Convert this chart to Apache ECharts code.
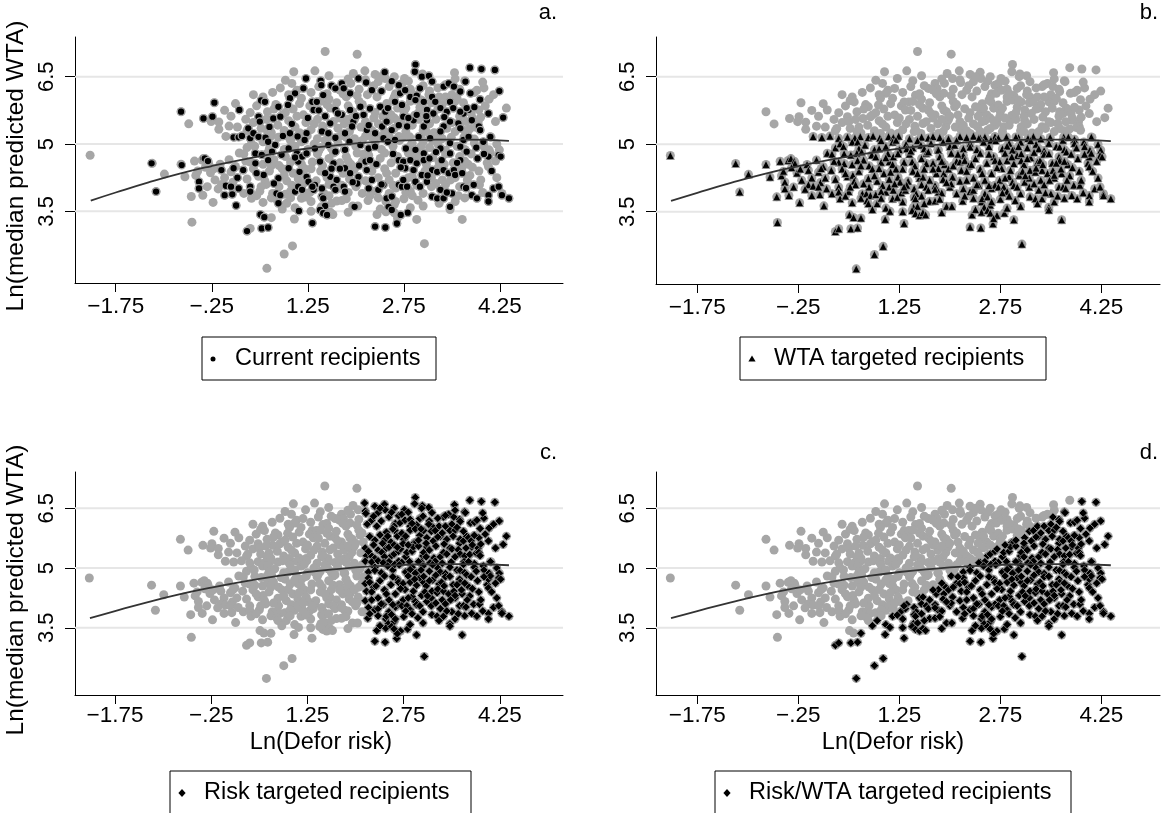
<!DOCTYPE html>
<html><head><meta charset="utf-8">
<script src="https://cdn.jsdelivr.net/npm/echarts@6/dist/echarts.min.js"></script>
<style>html,body{margin:0;padding:0;background:#fff}#c{width:1163px;height:813px}</style>
</head><body><div id="c"></div><script>
// ---------- DATA ----------
const xTicks = [-1.75, -0.25, 1.25, 2.75, 4.25];
const xTickLabels = ['\u22121.75', '\u2212.25', '1.25', '2.75', '4.25'];
const yTicks = [3.5, 5, 6.5];
const yTickLabels = ['3.5', '5', '6.5'];
const panelLetters = ['a.', 'b.', 'c.', 'd.'];
const legendLabels = ['Current recipients', 'WTA targeted recipients', 'Risk targeted recipients', 'Risk/WTA targeted recipients'];
const xTitle = 'Ln(Defor risk)';
const yTitle = 'Ln(median predicted WTA)';
const WTA_CUT = 5.2;      // panel b: ln WTA below this
const RISK_CUT = 2.12;    // panel c: ln risk above this
const RATIO_CUT = 2.8;    // panel d: ln WTA - ln risk below this

// all properties: [ln defor risk, ln median predicted WTA]
const upperPoints = [
[1.52,7.06],[2.02,7.0],[1.03,6.61],[1.36,6.63],[1.96,6.57],[2.14,6.63],[2.30,6.55],[2.45,6.60],[2.93,6.77],[2.92,6.61],[3.04,6.56],[3.14,6.52],[3.54,6.59],[3.78,6.70],[3.96,6.67],[4.17,6.65],[3.70,6.41],[1.22,6.46],[2.60,6.50],[2.76,6.46],[2.15,6.43],[2.35,6.39],[1.45,6.41],[3.37,6.28],[3.45,6.35],[3.19,6.39],[3.03,6.50],[2.46,6.46],[2.04,6.46],[1.78,6.35],[1.81,6.24],[1.68,6.24],
[0.55,6.05],[0.70,6.15],[0.82,6.25],[0.95,6.10],[1.08,6.20],[1.18,6.24],[1.30,6.15],[1.42,6.28],[1.49,6.09],[1.55,6.12],[1.62,6.30],[1.75,6.20],[1.85,6.05],[1.91,6.13],[1.92,6.35],[2.05,6.22],[2.16,6.37],[2.18,6.10],[2.25,6.20],[2.28,6.30],[2.40,6.18],[2.52,6.28],[2.56,6.40],[2.62,6.12],[2.67,6.31],[2.69,6.13],[2.72,6.35],[2.77,6.20],[2.85,6.22],[2.95,6.08],[3.00,6.24],[3.05,6.30],[3.15,6.18],[3.28,6.25],[3.40,6.32],[3.50,6.10],[3.53,6.28],[3.62,6.22],[3.63,6.17],[3.71,6.39],[3.79,6.13],[3.85,6.15],[3.89,6.20],[4.00,6.25],[4.08,6.0],[4.24,6.18],[3.30,6.05],[2.60,6.05],[1.00,6.35],[1.05,6.13],[0.97,6.02],[2.85,6.05],[3.19,6.05],[3.94,5.99],
[-0.21,5.92],[0.18,5.76],[0.35,5.70],[0.45,5.85],[0.52,5.97],[0.58,5.94],[0.62,5.72],[0.75,5.88],[0.79,5.83],[0.85,5.65],[0.94,5.87],[1.02,5.78],[1.12,5.90],[1.18,5.65],[1.28,5.85],[1.32,5.94],[1.39,5.94],[1.34,5.76],[1.45,5.95],[1.52,5.62],[1.60,5.80],[1.68,5.76],[1.70,5.92],[1.78,5.65],[1.88,5.85],[1.91,5.76],[1.95,5.72],[2.05,5.95],[2.07,5.83],[2.12,5.65],[2.22,5.79],[2.30,5.70],[2.38,5.83],[2.46,5.72],[2.48,5.90],[2.55,5.65],[2.61,5.94],[2.65,5.80],[2.72,5.87],[2.75,5.72],[2.85,5.95],[2.93,5.98],[2.92,5.64],[3.00,5.82],[3.06,5.94],[3.11,5.76],[3.18,5.92],[3.21,5.68],[3.24,5.94],[3.32,5.80],[3.35,5.88],[3.42,5.72],[3.47,5.94],[3.55,5.95],[3.62,5.62],[3.63,5.72],[3.68,5.68],[3.73,5.80],[3.76,5.76],[3.80,5.68],[3.92,5.76],[4.07,5.68],[4.35,5.80],[4.30,5.59],[-0.73,5.72],[-0.38,5.57],[-0.24,5.61],[0.05,5.62],[0.12,5.90],[0.48,5.61],[0.71,5.57],[0.82,5.61],
[-0.61,5.45],[-0.14,5.33],[-0.26,5.50],[-0.14,5.49],[0.02,5.40],[0.30,5.30],[0.32,5.35],[0.40,5.48],[0.50,5.50],[0.52,5.35],[0.60,5.55],[0.68,5.25],[0.78,5.42],[0.88,5.30],[0.95,5.52],[0.97,5.24],[1.05,5.38],[1.12,5.25],[1.22,5.48],[1.23,5.24],[1.30,5.32],[1.40,5.55],[1.47,5.28],[1.48,5.40],[1.57,5.24],[1.60,5.46],[1.65,5.50],[1.72,5.35],[1.82,5.45],[1.83,5.24],[1.90,5.28],[1.94,5.39],[1.96,5.50],[1.98,5.55],[2.08,5.38],[2.15,5.50],[2.17,5.31],[2.25,5.30],[2.30,5.24],[2.35,5.45],[2.41,5.39],[2.48,5.50],[2.52,5.52],[2.56,5.31],[2.60,5.35],[2.67,5.42],[2.70,5.48],[2.74,5.61],[2.78,5.28],[2.80,5.39],[2.88,5.42],[2.90,5.53],[2.95,5.65],[2.98,5.55],[3.05,5.30],[3.06,5.39],[3.11,5.53],[3.15,5.45],[3.22,5.25],[3.32,5.28],[3.37,5.39],[3.42,5.35],[3.47,5.50],[3.50,5.48],[3.60,5.46],[3.63,5.35],[3.70,5.30],[3.78,5.34],[3.81,5.53],[3.88,5.37],[3.91,5.50],[3.92,5.39],[3.94,5.31],[3.82,5.58],[1.75,5.58],[2.60,5.58],
[0.65,5.38],[0.72,5.78],[0.90,5.70],[1.00,5.45],[1.08,5.62],[1.15,6.02],[1.25,5.58],[1.35,5.45],[1.42,5.75],[1.55,5.88],[1.58,6.00],[1.72,5.68],[1.80,6.12],[1.88,5.55],[2.00,5.62],[2.02,6.08],[2.10,5.88],[2.20,5.42],[2.28,5.58],[2.33,6.05],[2.42,5.62],[2.50,5.80],[2.58,5.98],[2.65,5.52],[2.78,5.80],[2.82,5.58],[2.88,6.12],[2.98,5.70],[3.02,5.98],[3.10,5.62],[3.14,6.10],[3.25,5.55],[3.28,5.78],[3.38,5.60],[3.40,6.05],[3.52,5.80],[3.58,6.02],[3.68,5.92],[3.72,5.50],[3.85,5.82],[3.95,5.60],[4.02,5.85],[4.15,6.10],[4.18,5.50],[3.98,6.38],[3.55,6.45],[2.82,6.40],[2.38,6.50],[1.88,6.45],[1.58,6.52],[0.90,6.42],[0.40,6.10],[0.28,5.55],[0.15,5.38],[-0.05,5.75],[0.62,5.28],[1.50,5.30],[2.45,5.28],[3.55,5.28],[3.10,5.28]
];
const lowerPoints = [
[-0.03,5.17],[0.10,5.15],[0.22,5.18],[0.48,5.16],[0.59,5.14],[0.67,5.17],[0.79,5.15],[0.86,5.18],[0.96,5.14],[1.09,5.17],[1.16,5.15],[1.24,5.18],[1.58,5.16],[1.68,5.14],[1.75,5.17],[1.85,5.15],[2.15,5.17],[2.25,5.15],[2.35,5.18],[2.45,5.14],[2.52,5.16],[2.67,5.17],[2.72,5.14],[2.84,5.16],[3.02,5.15],[3.24,5.17],[3.49,5.15],[3.69,5.16],[4.11,5.15],[0.35,5.13],[1.40,5.12],[1.98,5.12],[3.35,5.12],[3.85,5.11],
[0.18,4.80],[0.30,4.92],[0.37,5.01],[0.42,4.95],[0.55,5.05],[0.63,5.05],[0.65,4.90],[0.74,4.98],[0.88,4.88],[0.95,4.90],[0.98,5.08],[1.05,4.95],[1.15,5.05],[1.20,5.09],[1.25,4.88],[1.35,5.00],[1.36,4.90],[1.45,4.92],[1.52,5.08],[1.57,4.98],[1.62,4.90],[1.72,5.02],[1.82,4.88],[1.90,5.05],[2.00,4.95],[2.07,4.98],[2.10,5.08],[2.20,4.90],[2.30,5.02],[2.30,4.94],[2.40,4.88],[2.43,5.13],[2.50,5.05],[2.58,4.95],[2.61,5.09],[2.68,5.08],[2.78,4.90],[2.88,5.02],[2.95,4.88],[2.98,5.16],[3.05,5.05],[3.15,4.92],[3.16,5.13],[3.28,5.00],[3.32,4.90],[3.40,4.86],[3.47,5.02],[3.58,4.95],[3.63,4.94],[3.68,5.09],[3.70,4.88],[3.76,5.16],[3.85,5.02],[3.99,5.05],[4.00,4.95],[4.10,5.16],[4.20,5.00],[4.24,4.87],[4.08,4.87],[3.20,5.08],[2.85,4.96],
[-1.18,4.57],[-0.73,4.55],[-0.52,4.62],[-0.40,4.64],[-0.36,4.68],[-0.31,4.62],[-0.30,4.57],[-0.12,4.55],[0.02,4.65],[0.12,4.50],[0.25,4.78],[0.35,4.60],[0.43,4.57],[0.43,4.79],[0.53,4.76],[0.55,4.55],[0.62,4.80],[0.63,4.64],[0.69,4.83],[0.72,4.65],[0.80,4.52],[0.84,4.76],[0.90,4.72],[0.98,4.60],[1.08,4.79],[1.10,4.61],[1.15,4.55],[1.16,4.72],[1.23,4.79],[1.32,4.60],[1.40,4.78],[1.44,4.61],[1.48,4.52],[1.58,4.68],[1.65,4.57],[1.65,4.80],[1.68,4.83],[1.75,4.58],[1.83,4.87],[1.85,4.72],[1.92,4.55],[2.02,4.80],[2.10,4.62],[2.15,4.61],[2.20,4.75],[2.22,4.64],[2.28,4.52],[2.38,4.68],[2.45,4.80],[2.55,4.58],[2.65,4.72],[2.67,4.64],[2.74,4.61],[2.82,4.80],[2.85,4.64],[2.93,4.87],[2.95,4.57],[3.00,4.75],[3.06,4.64],[3.06,4.79],[3.10,4.55],[3.20,4.70],[3.30,4.60],[3.34,4.64],[3.40,4.78],[3.47,4.79],[3.52,4.58],[3.62,4.72],[3.63,4.64],[3.73,4.83],[3.75,4.55],[3.80,4.78],[3.90,4.68],[4.05,4.58],[4.07,4.72],[4.10,4.80],[4.23,4.75],[4.26,4.72],
[-0.99,4.33],[-0.67,4.27],[-0.50,4.30],[-0.47,4.40],[-0.45,4.16],[-0.27,4.36],[-0.22,4.45],[-0.20,4.20],[-0.10,4.42],[-0.05,4.25],[0.05,4.38],[0.08,4.15],[0.09,4.46],[0.24,4.42],[0.30,4.22],[0.40,4.45],[0.48,4.28],[0.56,4.31],[0.58,4.18],[0.65,4.40],[0.79,4.24],[0.85,4.45],[0.92,4.18],[0.95,4.46],[1.02,4.35],[1.10,4.22],[1.20,4.45],[1.23,4.27],[1.26,4.16],[1.38,4.18],[1.45,4.40],[1.55,4.25],[1.60,4.27],[1.62,4.45],[1.70,4.20],[1.80,4.35],[1.83,4.46],[1.91,4.35],[1.90,4.22],[1.98,4.45],[2.04,4.27],[2.15,4.18],[2.17,4.42],[2.25,4.40],[2.35,4.25],[2.45,4.45],[2.52,4.20],[2.62,4.35],[2.74,4.20],[2.77,4.46],[2.88,4.28],[2.90,4.42],[2.93,4.16],[3.03,4.31],[3.08,4.40],[3.11,4.16],[3.18,4.25],[3.19,4.42],[3.27,4.38],[3.28,4.47],[3.35,4.20],[3.37,4.42],[3.45,4.35],[3.53,4.42],[3.55,4.25],[3.55,4.31],[3.66,4.35],[3.65,4.45],[3.78,4.30],[3.92,4.40],[4.07,4.50],[3.74,4.20],
[-1.12,3.94],[-0.45,4.01],[-0.39,3.86],[-0.32,4.05],[-0.10,4.10],[-0.05,3.86],[-0.03,4.07],[0.05,4.05],[0.07,3.88],[0.17,4.01],[0.25,3.90],[0.35,4.05],[0.35,3.94],[0.50,3.95],[0.60,4.10],[0.70,3.90],[0.76,3.90],[0.80,4.05],[0.82,3.86],[0.90,3.88],[1.00,4.08],[1.05,3.94],[1.10,4.05],[1.16,3.98],[1.18,4.12],[1.28,3.92],[1.34,3.98],[1.36,4.09],[1.47,4.01],[1.50,3.90],[1.58,4.10],[1.65,4.05],[1.68,3.98],[1.78,4.08],[1.83,3.94],[1.88,3.92],[2.00,4.05],[2.02,4.12],[2.10,3.90],[2.20,4.01],[2.30,3.95],[2.35,3.98],[2.43,4.09],[2.52,3.90],[2.62,4.02],[2.67,4.09],[2.72,4.05],[2.80,4.05],[2.85,3.95],[2.95,4.08],[3.05,3.90],[3.18,4.05],[3.32,3.98],[3.40,4.10],[3.50,3.90],[3.62,4.05],[3.68,4.05],[3.84,4.09],[3.93,4.09],[4.15,4.01],[4.23,4.05],[4.28,3.90],
[-0.57,3.83],[-0.23,3.70],[0.13,3.63],[0.37,3.79],[0.55,3.70],[0.68,3.80],[0.77,3.75],[0.79,3.68],[0.92,3.68],[1.05,3.58],[1.15,3.79],[1.30,3.72],[1.46,3.60],[1.47,3.83],[1.49,3.79],[1.52,3.62],[1.70,3.73],[1.78,3.74],[1.95,3.62],[2.03,3.62],[2.19,3.74],[2.35,3.80],[2.47,3.72],[2.48,3.79],[2.51,3.60],[2.56,3.83],[2.60,3.65],[2.75,3.78],[2.97,3.75],[3.05,3.62],[3.19,3.83],[3.27,3.79],[3.37,3.79],[3.47,3.60],[3.55,3.72],[3.70,3.80],[3.81,3.86],[3.89,3.79],[4.07,3.86],[4.07,3.72],[4.28,3.86],[4.39,3.79],
[-0.56,3.26],[0.30,3.06],[0.35,3.12],[0.53,3.12],[0.63,3.14],[0.51,3.43],[0.57,3.37],[0.68,3.36],[1.04,3.33],[1.11,3.51],[1.32,3.24],[1.44,3.53],[1.49,3.46],[1.55,3.42],[1.60,3.48],[1.64,3.43],[2.30,3.16],[2.46,3.14],[2.33,3.43],[2.47,3.49],[2.56,3.53],[2.60,3.47],[2.64,3.23],[2.70,3.42],[2.81,3.47],[2.65,3.35],[2.95,3.32],[3.47,3.54],[3.66,3.32],[0.61,2.23],[0.88,2.55],[1.01,2.73],[3.07,2.78],
[-2.15,4.75],
[0.45,4.35],[0.52,4.05],[0.68,4.52],[0.72,4.12],[0.88,4.30],[0.98,3.95],[1.05,4.70],[1.12,4.38],[1.30,4.45],[1.32,4.05],[1.42,4.85],[1.52,4.35],[1.58,3.85],[1.75,4.45],[1.78,4.00],[1.88,4.62],[1.95,4.15],[2.05,4.52],[2.12,4.78],[2.25,4.20],[2.32,4.55],[2.40,4.10],[2.48,4.35],[2.58,4.78],[2.58,4.08],[2.70,4.48],[2.78,3.92],[2.82,4.25],[2.92,4.72],[3.00,4.05],[3.02,4.95],[3.12,4.30],[3.15,4.68],[3.25,4.12],[3.25,4.82],[3.38,4.55],[3.42,3.92],[3.48,4.20],[3.58,4.58],[3.60,3.85],[3.70,4.62],[3.72,4.02],[3.82,4.48],[3.88,4.92],[3.95,4.20],[4.00,4.78],[4.12,4.40],[4.18,4.62],[4.20,4.25],[3.98,3.92],[2.88,3.85],[2.62,3.72],[2.22,3.85],[1.85,3.78],[1.62,3.68],[1.22,3.82],[0.98,3.80],[0.45,3.85],[0.28,4.62],[0.15,4.25],[-0.15,4.00],[-0.35,4.48],[3.30,3.68],[2.85,3.58],[2.38,3.55],[1.88,3.48],[1.30,3.50],[0.85,3.55]
];
// black dots of panel a (current recipients)
const currentRecipients = [
[-0.73,5.72],[-0.21,5.92],[-0.38,5.57],[-0.24,5.61],[0.18,5.76],[0.09,5.15],[0.17,5.15],[-0.38,4.68],
[-1.19,4.57],[-0.72,4.53],[-1.12,3.94],[-0.36,4.68],[-0.31,4.62],[-0.10,4.42],[0.09,4.46],[-0.45,4.16],[-0.45,4.01],[-0.03,4.07],[0.05,4.05],[-0.05,3.86],[0.07,3.88],[0.13,3.63],[0.17,4.01],
[0.24,4.42],[0.35,4.05],[0.35,3.94],[0.79,4.24],[0.76,3.90],[0.82,3.86],[0.79,3.68],[1.05,3.94],[1.10,4.05],[1.16,3.98],[1.23,4.27],[1.26,4.16],[1.36,4.09],[1.34,3.98],[1.44,4.61],[1.47,4.01],[1.47,3.83],[1.49,3.79],[1.52,3.62],[1.44,3.53],[1.49,3.46],[1.55,3.42],[1.32,3.24],[1.11,3.51],[0.51,3.43],[0.57,3.37],[0.30,3.06],[0.53,3.12],[0.63,3.14],[1.65,4.57],[1.62,4.45],[1.60,4.27],[1.70,4.20],[1.65,4.05],[1.68,3.98],[1.83,4.46],[1.91,4.35],[1.81,4.05],[1.83,3.94],[1.98,3.60],[2.04,4.27],[2.02,4.12],[2.15,4.61],[2.22,4.64],[2.17,4.42],[2.20,4.01],[2.35,3.98],[2.43,4.09],[2.48,3.79],[2.56,3.83],[2.51,3.60],[2.56,3.53],[2.30,3.16],[2.46,3.14],[2.64,3.23],[2.67,4.09],[2.72,4.05],[2.67,4.64],[0.95,4.46],[1.10,4.61],[0.56,4.31],[0.63,4.64],[0.43,4.57],
[1.22,6.46],[1.45,6.41],[1.46,6.31],[1.32,5.94],[1.39,5.94],[1.18,6.24],[1.05,6.13],[0.97,6.02],[0.94,5.87],[0.52,5.97],[0.58,5.94],[0.79,5.83],[0.71,5.57],[0.82,5.61],[0.48,5.61],[0.50,5.50],[0.32,5.35],[0.22,5.18],[0.35,5.13],[0.40,5.24],[0.48,5.16],[0.59,5.14],[0.63,5.05],[0.74,4.98],[0.86,5.18],[0.97,5.24],[1.09,5.17],[1.23,5.24],[1.20,5.09],[1.34,5.76],[1.52,5.62],[1.60,5.46],[1.49,6.09],[1.62,6.30],[1.68,6.24],[1.78,6.35],[1.81,6.24],[1.91,6.13],[2.04,6.46],[2.16,6.37],[2.25,6.20],[2.40,6.18],[2.45,6.60],[2.56,6.40],[2.67,6.31],[2.69,6.13],[2.61,5.94],[2.72,5.87],[1.68,5.76],[1.78,5.65],[1.91,5.76],[2.07,5.83],[2.12,5.65],[2.22,5.79],[2.38,5.83],[2.46,5.72],[1.96,5.50],[1.94,5.39],[2.17,5.31],[2.30,5.24],[2.41,5.39],[2.48,5.50],[2.56,5.31],[2.67,5.42],[1.47,5.28],[1.57,5.24],[1.68,5.14],[1.83,5.24],[1.90,5.05],[2.07,4.98],[1.57,4.98],[1.36,4.90],[1.68,4.83],[1.83,4.87],[2.20,4.90],[2.30,4.94],[2.43,5.13],[2.50,5.05],[2.61,5.09],[2.78,4.90],[0.43,4.79],[0.53,4.76],[0.69,4.83],[0.84,4.76],[0.95,4.90],[1.08,4.79],[1.16,4.72],[1.23,4.79],
[2.93,6.77],[2.92,6.61],[3.03,6.50],[3.14,6.52],[3.19,6.39],[3.37,6.28],[3.45,6.35],[3.53,6.28],[3.63,6.17],[3.71,6.39],[3.78,6.70],[3.96,6.67],[4.17,6.65],[4.24,6.18],[3.79,6.13],[3.94,5.99],[3.76,5.76],[3.68,5.68],[4.07,5.68],[4.30,5.59],[4.10,5.16],[3.99,5.05],[2.77,6.20],[2.85,6.05],[2.95,6.08],[3.00,6.24],[2.93,5.98],[3.06,5.94],[3.19,6.05],[3.24,5.94],[3.11,5.76],[3.21,5.68],[3.32,5.80],[3.42,5.72],[3.47,5.94],[3.63,5.72],[3.73,5.80],[3.81,5.53],[3.92,5.39],[3.94,5.31],[3.60,5.46],[3.63,5.35],[3.47,5.50],[3.37,5.39],[3.32,5.28],[3.06,5.39],[3.11,5.53],[2.90,5.53],[2.95,5.65],[2.74,5.61],[2.80,5.39],[2.98,5.16],[3.16,5.13],[3.32,4.90],[3.47,5.02],[3.68,5.09],[3.76,5.16],[2.93,4.87],[3.06,4.79],[3.47,4.79],[3.63,4.94],[3.73,4.83],[4.07,4.72],[4.23,4.75],[3.90,4.68],
[2.74,4.61],[2.85,4.64],[2.95,4.57],[2.77,4.46],[2.90,4.42],[3.06,4.64],[3.03,4.31],[2.74,4.20],[2.80,4.05],[2.93,4.16],[3.19,4.42],[3.27,4.38],[3.37,4.42],[3.45,4.35],[3.53,4.42],[3.55,4.31],[3.66,4.35],[3.34,4.64],[3.63,4.64],[3.68,4.05],[3.84,4.09],[3.81,3.86],[3.89,3.79],[4.07,3.86],[4.07,3.72],[4.15,4.01],[4.23,4.05],[4.28,3.86],[4.39,3.79],[3.19,3.83],[3.27,3.79],[3.32,3.98],[3.37,3.79],[3.50,3.90],[3.47,3.60],[2.81,3.47],[2.70,3.42],[4.26,4.72],[3.11,4.16],
[0.65,5.38],[1.00,5.45],[1.25,5.58],[1.42,5.75],[1.72,5.68],[2.00,5.62],[2.20,5.42],[2.50,5.80],[2.82,5.58],[3.10,5.62],[3.38,5.60],[3.52,5.80],[3.85,5.82],[0.45,4.35],[0.72,4.12],[1.12,4.38],[1.32,4.05],[1.52,4.35],[1.75,4.45],[1.95,4.15],[2.05,4.52],[2.25,4.20],[2.40,4.10],[2.58,4.78],[2.70,4.48],[3.00,4.05],[3.12,4.30],[3.25,4.82],[3.42,3.92],[3.58,4.58],[3.72,4.02],[3.88,4.92],[4.00,4.78],[4.12,4.40],[0.15,4.25],[1.05,4.70],[2.32,4.55],[3.15,4.68]
];
// fitted quadratic curve, read at these x positions
const fitX = [-2.14, -1.75, -1.25, -0.75, -0.25, 0.25, 0.75, 1.25, 1.75, 2.25, 2.75, 3.25, 3.75, 4.39];
const fitY = [3.74, 3.92, 4.14, 4.34, 4.51, 4.66, 4.79, 4.90, 4.98, 5.04, 5.08, 5.10, 5.10, 5.07];

// ---------- CHART ----------
const allPoints = upperPoints.concat(lowerPoints);
const FONT = '"Liberation Sans", Arial, Helvetica, sans-serif';
const GREY = '#a6a6a6';
const fitData = fitX.map((x, i) => [x, fitY[i]]);

const subsets = [
  currentRecipients,
  allPoints.filter(p => p[1] < WTA_CUT),
  allPoints.filter(p => p[0] > RISK_CUT),
  allPoints.filter(p => p[1] - p[0] < RATIO_CUT)
];
const symbols = ['circle', 'triangle', 'diamond', 'diamond'];
const symSizes = [7.5, 8, 8.5, 8.5];

const panels = [
  {left: 75, top: 37, width: 488, height: 246, xMin: -2.386, xMax: 5.234, yMin: 1.904, yMax: 7.384, lm: 12},
  {left: 656, top: 37, width: 504, height: 247, xMin: -2.363, xMax: 5.12, yMin: 1.893, yMax: 7.382, lm: 12},
  {left: 75, top: 472, width: 488, height: 223, xMin: -2.373, xMax: 5.232, yMin: 1.813, yMax: 7.41, lm: 9},
  {left: 656, top: 472, width: 504, height: 223, xMin: -2.363, xMax: 5.12, yMin: 1.813, yMax: 7.41, lm: 9}
];

const grid = [], xAxis = [], yAxis = [], series = [];
panels.forEach((p, i) => {
  grid.push({left: p.left, top: p.top, width: p.width, height: p.height, containLabel: false});
  xAxis.push({
    gridIndex: i, type: 'value', min: p.xMin, max: p.xMax,
    axisLine: {show: true, onZero: false, lineStyle: {color: '#000', width: 1}},
    axisTick: {show: true, customValues: xTicks, length: 9, lineStyle: {color: '#000', width: 1}},
    axisLabel: {show: true, customValues: xTicks, margin: p.lm, color: '#000', fontSize: 22.5, fontFamily: FONT,
      formatter: v => xTickLabels[xTicks.findIndex(t => Math.abs(t - v) < 1e-6)]},
    splitLine: {show: false}
  });
  yAxis.push({
    gridIndex: i, type: 'value', min: p.yMin, max: p.yMax,
    axisLine: {show: true, onZero: false, lineStyle: {color: '#000', width: 1}},
    axisTick: {show: true, customValues: yTicks, length: 10, lineStyle: {color: '#000', width: 1}},
    axisLabel: {show: true, customValues: yTicks, rotate: 90, margin: 17, color: '#000', fontSize: 22, fontFamily: FONT,
      formatter: v => yTickLabels[yTicks.findIndex(t => Math.abs(t - v) < 1e-6)]},
    splitLine: {show: false}
  });
  yTicks.forEach(t => {
    series.push({type: 'line', xAxisIndex: i, yAxisIndex: i, data: [[p.xMin, t], [p.xMax, t]],
      showSymbol: false, silent: true, z: 1, lineStyle: {color: '#e6e6e6', width: 2}});
  });
  series.push({type: 'scatter', xAxisIndex: i, yAxisIndex: i, data: allPoints, symbol: 'circle',
    symbolSize: 9, z: 2, silent: true, itemStyle: {color: GREY, opacity: 1}});
  series.push({type: 'scatter', xAxisIndex: i, yAxisIndex: i, data: subsets[i], symbol: symbols[i],
    symbolSize: symSizes[i], z: 3, silent: true,
    itemStyle: {color: '#000', borderColor: GREY, borderWidth: i === 0 ? 1.2 : 0.7, opacity: 1}});
  series.push({type: 'line', xAxisIndex: i, yAxisIndex: i, data: fitData, smooth: true, showSymbol: false,
    silent: true, z: 4, lineStyle: {color: '#333', width: 1.8}});
});

const txt = (text, x, y, fs, align) => ({type: 'text', x: x, y: y,
  style: {text: text, fill: '#000', font: fs + 'px ' + FONT, textAlign: align || 'left', textVerticalAlign: 'middle'}});

const graphic = [];
// panel letters
graphic.push(txt(panelLetters[0], 557, 13, 22, 'right'));
graphic.push(txt(panelLetters[1], 1158, 13, 22, 'right'));
graphic.push(txt(panelLetters[2], 557, 453, 22, 'right'));
graphic.push(txt(panelLetters[3], 1158, 453, 22, 'right'));
// y titles
[[16, 166], [16, 590]].forEach(c => {
  graphic.push({type: 'text', x: c[0], y: c[1], rotation: Math.PI / 2,
    style: {text: yTitle, fill: '#000', font: '24.5px ' + FONT, textAlign: 'center', textVerticalAlign: 'middle'}});
});
// x titles
graphic.push(txt(xTitle, 321, 743, 23.5, 'center'));
graphic.push(txt(xTitle, 893, 743, 23.5, 'center'));
// legends
const legendBoxes = [
  {x: 202, y: 337, w: 234, h: 43, tx: 235},
  {x: 740, y: 337, w: 306, h: 43, tx: 774},
  {x: 170, y: 771, w: 301, h: 60, tx: 204},
  {x: 715, y: 771, w: 356, h: 60, tx: 749}
];
const legendMarkers = [
  {type: 'circle', shape: {cx: 0, cy: 0, r: 2.5}},
  {type: 'polygon', shape: {points: [[0, -3.5], [3.6, 2.6], [-3.6, 2.6]]}},
  {type: 'polygon', shape: {points: [[0, -4], [3.6, 0], [0, 4], [-3.6, 0]]}},
  {type: 'polygon', shape: {points: [[0, -4], [3.6, 0], [0, 4], [-3.6, 0]]}}
];
legendBoxes.forEach((b, i) => {
  graphic.push({type: 'rect', shape: {x: b.x, y: b.y, width: b.w, height: b.h},
    style: {fill: '#fff', stroke: '#000', lineWidth: 1}});
  const cy = b.y + 22;
  graphic.push(Object.assign({}, legendMarkers[i], {x: b.tx - 22, y: cy, style: {fill: '#000'}}));
  graphic.push(txt(legendLabels[i], b.tx, cy, 23.5, 'left'));
});

const chart = echarts.init(document.getElementById('c'), null, {renderer: 'canvas'});
chart.setOption({animation: false, backgroundColor: '#fff', grid, xAxis, yAxis, series, graphic});
</script></body></html>
